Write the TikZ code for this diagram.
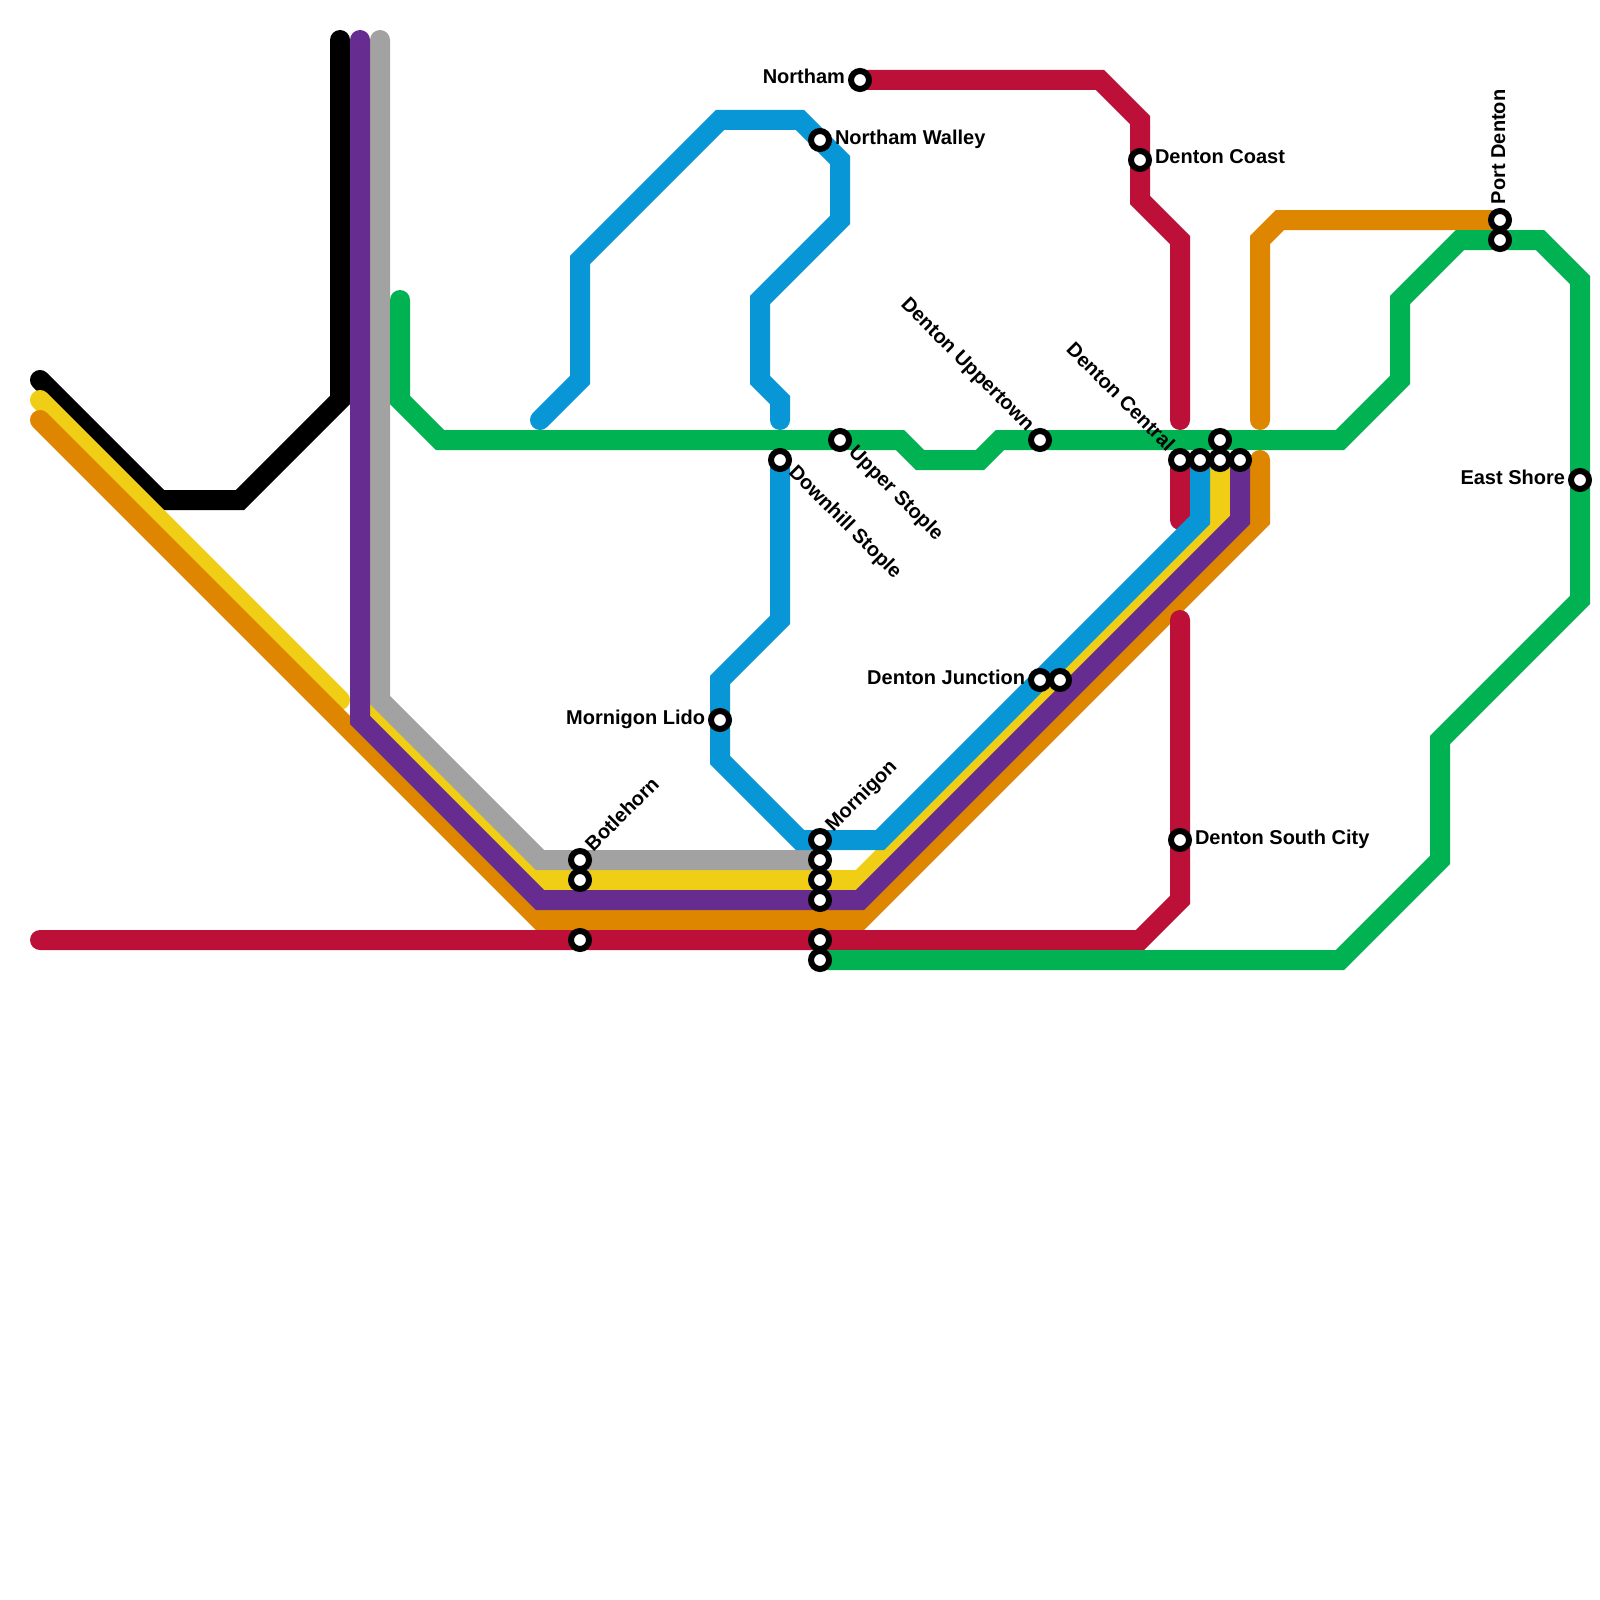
\documentclass[tikz,border=0pt]{standalone}
\usepackage{fontspec}
\setmainfont{Liberation Sans}
\definecolor{lred}{HTML}{BD1038}
\definecolor{lgreen}{HTML}{00B251}
\definecolor{lblue}{HTML}{0896D7}
\definecolor{lyellow}{HTML}{F0CE15}
\definecolor{lorange}{HTML}{DF8600}
\definecolor{lpurple}{HTML}{662C90}
\definecolor{lgray}{HTML}{A2A2A2}
\tikzset{
  metro/.style={line width=20pt,line cap=round,line join=miter},
  stn/.style={circle,draw=black,fill=white,line width=6pt,minimum size=18pt,inner sep=0pt,outer sep=0pt},
  lab/.style={inner sep=0pt,outer sep=0pt,font=\fontsize{20}{22}\selectfont\bfseries},
}
\begin{document}
\begin{tikzpicture}[x=1pt,y=-1pt]
\useasboundingbox (0,0) rectangle (1600,1600);
% station positions
\foreach \n/\p in {northam/{860,80},walley/{820,140},coast/{1140,160},portA/{1500,220},portB/{1500,240},
  upper/{840,440},downhill/{780,460},uppertown/{1040,440},centralA/{1180,460},centralB/{1200,460},
  centralC/{1220,440},centralD/{1220,460},centralE/{1240,460},east/{1580,480},junctionA/{1040,680},
  junctionB/{1060,680},lido/{720,720},botA/{580,860},botB/{580,880},botC/{580,940},
  morA/{820,840},morB/{820,860},morC/{820,880},morD/{820,900},morE/{820,940},morF/{820,960},south/{1180,840}}
  {\coordinate (p-\n) at (\p);}
% lines
\draw[metro,black] (40,380) -- (160,500) -- (240,500) -- (340,400) -- (340,40);
\draw[metro,lyellow] (40,400) -- (340,700);
\draw[metro,lyellow] (360,700) -- (540,880) -- (860,880) -- (1220,520) -- (p-centralD);
\draw[metro,lorange] (40,420) -- (540,920) -- (860,920) -- (1260,520) -- (1260,460);
\draw[metro,lorange] (1260,420) -- (1260,240) -- (1280,220) -- (p-portA);
\draw[metro,lred] (p-northam) -- (1100,80) -- (1140,120) -- (1140,200) -- (1180,240) -- (1180,420);
\draw[metro,lred] (p-centralA) -- (1180,520);
\draw[metro,lred] (1180,620) -- (1180,900) -- (1140,940) -- (40,940);
\draw[metro,lgray] (380,40) -- (380,700) -- (540,860) -- (p-morB);
\draw[metro,lblue] (p-centralB) -- (1200,520) -- (880,840) -- (800,840) -- (720,760) -- (720,680) -- (780,620) -- (p-downhill);
\draw[metro,lblue] (540,420) -- (580,380) -- (580,260) -- (720,120) -- (800,120) -- (840,160) -- (840,220) -- (760,300) -- (760,380) -- (780,400) -- (780,420);
\draw[metro,lpurple] (360,40) -- (360,720) -- (540,900) -- (860,900) -- (1240,520) -- (p-centralE);
\draw[metro,lgreen] (400,300) -- (400,400) -- (440,440) -- (900,440) -- (920,460) -- (980,460) -- (1000,440) -- (1340,440) -- (1400,380) -- (1400,300) -- (1460,240) -- (1540,240) -- (1580,280) -- (1580,600) -- (1440,740) -- (1440,860) -- (1340,960) -- (p-morF);
% stations
\foreach \n in {northam,walley,coast,portA,portB,upper,downhill,uppertown,centralA,centralB,centralC,centralD,centralE,east,junctionA,junctionB,lido,botA,botB,botC,morA,morB,morC,morD,morE,morF,south}
  {\node[stn] (\n) at (p-\n) {};}
% labels
\node[lab,anchor=base east] (l1) at (845,84) {Northam};
\node[lab,anchor=base west] (l2) at (835,144) {Northam Walley};
\node[lab,anchor=base west] (l3) at (1155,164) {Denton Coast};
\node[lab,anchor=base west,rotate=90] (l4) at (1505,204) {Port Denton};
\node[lab,anchor=base west,rotate=-45] (l5) at (847.8,453.4) {Upper Stople};
\node[lab,anchor=base west,rotate=-45] (l6) at (787.8,473.4) {Downhill Stople};
\node[lab,anchor=base east,rotate=-45] (l7) at (1026.6,432.2) {Denton Uppertown};
\node[lab,anchor=base east,rotate=-45] (l8) at (1166.6,452.2) {Denton Central};
\node[lab,anchor=base east] (l9) at (1565,484) {East Shore};
\node[lab,anchor=base east] (l10) at (1025,684) {Denton Junction};
\node[lab,anchor=base east] (l11) at (705,724) {Mornigon Lido};
\node[lab,anchor=base west,rotate=45] (l12) at (593.4,852.2) {Botlehorn};
\node[lab,anchor=base west,rotate=45] (l13) at (833.4,832.2) {Mornigon};
\node[lab,anchor=base west] (l14) at (1195,844) {Denton South City};
\end{tikzpicture}
\end{document}
